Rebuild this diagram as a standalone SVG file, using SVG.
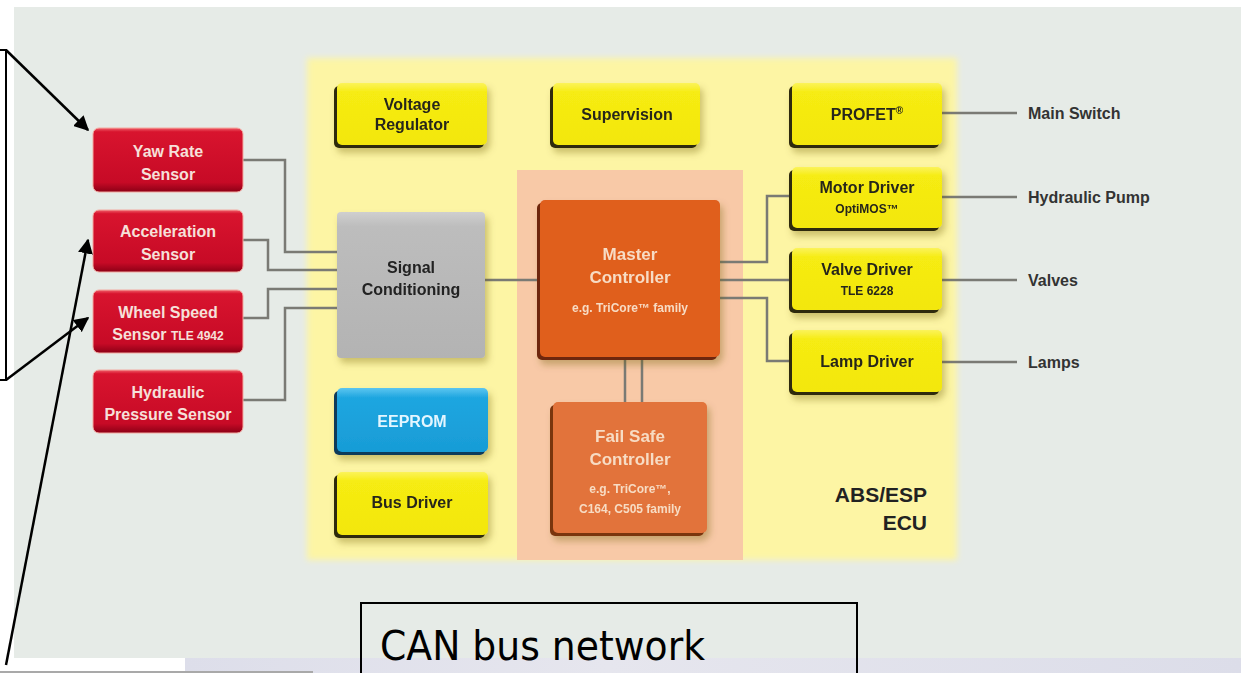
<svg xmlns="http://www.w3.org/2000/svg" width="1241" height="673" viewBox="0 0 1241 673">
  <defs>
    <style>
      .lbl { font-family: "Liberation Sans", Arial, sans-serif; font-weight: bold; text-anchor: middle; }
      .dark { fill: #26261a; }
      .red-t { fill: #f6e0da; font-size: 16px; }
      .yel-t { font-size: 16px; }
      .small { font-size: 12px; }
      .out { font-family: "Liberation Sans", Arial, sans-serif; font-weight: bold; font-size: 16px; fill: #333333; }
      .wire { fill: none; stroke: #7a7a74; stroke-width: 2.5; }
      .call { fill: none; stroke: #000000; stroke-width: 2.5; }
    </style>
    <filter id="soft" x="-5%" y="-5%" width="110%" height="110%">
      <feGaussianBlur stdDeviation="3"/>
    </filter>
    <filter id="shadow" x="-20%" y="-20%" width="150%" height="160%">
      <feDropShadow dx="3" dy="5" stdDeviation="3.5" flood-color="#6b5a00" flood-opacity="0.35"/>
    </filter>
    <linearGradient id="redG" x1="0" y1="0" x2="0" y2="1">
      <stop offset="0" stop-color="#f0606a"/>
      <stop offset="0.06" stop-color="#d8142e"/>
      <stop offset="0.85" stop-color="#c70a26"/>
      <stop offset="1" stop-color="#8c0016"/>
    </linearGradient>
    <linearGradient id="yelG" x1="0" y1="0" x2="0" y2="1">
      <stop offset="0" stop-color="#fbf35a"/>
      <stop offset="0.15" stop-color="#f6ec12"/>
      <stop offset="1" stop-color="#f3e70e"/>
    </linearGradient>
    <linearGradient id="greyG" x1="0" y1="0" x2="0" y2="1">
      <stop offset="0" stop-color="#cfcfcf"/>
      <stop offset="0.1" stop-color="#bdbdbd"/>
      <stop offset="1" stop-color="#b3b3b3"/>
    </linearGradient>
    <linearGradient id="blueG" x1="0" y1="0" x2="0" y2="1">
      <stop offset="0" stop-color="#5cc6f0"/>
      <stop offset="0.15" stop-color="#1fa6e0"/>
      <stop offset="1" stop-color="#189cd6"/>
    </linearGradient>
    <linearGradient id="busG" x1="0" y1="0" x2="1" y2="0">
      <stop offset="0" stop-color="#dddeea"/>
      <stop offset="0.4" stop-color="#e6e6ee"/>
      <stop offset="1" stop-color="#dcdde9"/>
    </linearGradient>
    <marker id="arrow" viewBox="0 0 10 10" refX="9" refY="5" markerWidth="6" markerHeight="6" markerUnits="strokeWidth" orient="auto">
      <path d="M0 0 L10 5 L0 10 z" fill="#000000"/>
    </marker>
  </defs>

  <!-- page background -->
  <rect width="1241" height="673" fill="#ffffff"/>
  <rect x="14" y="7" width="1227" height="651" fill="#e6ebe7"/>
  <rect x="185" y="658" width="1056" height="15" fill="url(#busG)"/>
  <line x1="0" y1="672" x2="313" y2="672" stroke="#a9a9a9" stroke-width="2"/>

  <!-- ECU area and controller zone -->
  <rect x="307" y="58" width="650" height="502" fill="#fdf5a4" filter="url(#soft)"/>
  <rect x="517" y="170" width="226" height="390" fill="#f8c9a7"/>

  <!-- connectors -->
  <g id="connectors">
    <path class="wire" d="M243 160 H285 V252 H337"/>
    <path class="wire" d="M243 240 H268 V270 H337"/>
    <path class="wire" d="M243 318 H268 V289 H337"/>
    <path class="wire" d="M243 400 H285 V308 H337"/>
    <path class="wire" d="M485 280 H540"/>
    <path class="wire" d="M720 262 H767 V196 H792"/>
    <path class="wire" d="M720 280 H792"/>
    <path class="wire" d="M720 298 H767 V361 H792"/>
    <path class="wire" d="M625 357 V402 M642 357 V402"/>
    <path class="wire" d="M942 113 H1017 M942 197 H1017 M942 280 H1017 M942 362 H1017"/>
  </g>

  <!-- sensors -->
  <g id="yaw-rate-sensor">
    <rect x="93" y="128" width="150" height="64" rx="6" fill="url(#redG)" stroke="#f3a9a0" stroke-width="1"/>
    <text class="lbl red-t" x="168" y="157">Yaw Rate</text>
    <text class="lbl red-t" x="168" y="180">Sensor</text>
  </g>
  <g id="acceleration-sensor">
    <rect x="93" y="210" width="150" height="62" rx="6" fill="url(#redG)" stroke="#f3a9a0" stroke-width="1"/>
    <text class="lbl red-t" x="168" y="237">Acceleration</text>
    <text class="lbl red-t" x="168" y="260">Sensor</text>
  </g>
  <g id="wheel-speed-sensor">
    <rect x="93" y="290" width="150" height="63" rx="6" fill="url(#redG)" stroke="#f3a9a0" stroke-width="1"/>
    <text class="lbl red-t" x="168" y="318">Wheel Speed</text>
    <text class="lbl red-t" x="168" y="340">Sensor <tspan class="small">TLE 4942</tspan></text>
  </g>
  <g id="hydraulic-pressure-sensor">
    <rect x="93" y="370" width="150" height="63" rx="6" fill="url(#redG)" stroke="#f3a9a0" stroke-width="1"/>
    <text class="lbl red-t" x="168" y="398">Hydraulic</text>
    <text class="lbl red-t" x="168" y="420">Pressure Sensor</text>
  </g>

  <!-- ECU blocks -->
  <g id="voltage-regulator" filter="url(#shadow)">
    <rect x="334" y="86" width="150" height="62" rx="5" fill="#2e2a08"/>
    <rect x="337" y="83" width="150" height="62" rx="5" fill="url(#yelG)"/>
    <text class="lbl yel-t dark" x="412" y="110">Voltage</text>
    <text class="lbl yel-t dark" x="412" y="130">Regulator</text>
  </g>
  <g id="supervision" filter="url(#shadow)">
    <rect x="550" y="86" width="147" height="62" rx="5" fill="#2e2a08"/>
    <rect x="553" y="83" width="147" height="62" rx="5" fill="url(#yelG)"/>
    <text class="lbl yel-t dark" x="627" y="120">Supervision</text>
  </g>
  <g id="profet" filter="url(#shadow)">
    <rect x="789" y="86" width="150" height="62" rx="5" fill="#2e2a08"/>
    <rect x="792" y="83" width="150" height="62" rx="5" fill="url(#yelG)"/>
    <text class="lbl yel-t dark" x="867" y="120">PROFET<tspan font-size="10" dy="-6">®</tspan></text>
  </g>
  <g id="motor-driver" filter="url(#shadow)">
    <rect x="789" y="170" width="150" height="61" rx="5" fill="#2e2a08"/>
    <rect x="792" y="167" width="150" height="61" rx="5" fill="url(#yelG)"/>
    <text class="lbl yel-t dark" x="867" y="193">Motor Driver</text>
    <text class="lbl small dark" x="867" y="213">OptiMOS™</text>
  </g>
  <g id="valve-driver" filter="url(#shadow)">
    <rect x="789" y="251" width="150" height="62" rx="5" fill="#2e2a08"/>
    <rect x="792" y="248" width="150" height="62" rx="5" fill="url(#yelG)"/>
    <text class="lbl yel-t dark" x="867" y="275">Valve Driver</text>
    <text class="lbl small dark" x="867" y="295">TLE 6228</text>
  </g>
  <g id="lamp-driver" filter="url(#shadow)">
    <rect x="789" y="333" width="150" height="62" rx="5" fill="#2e2a08"/>
    <rect x="792" y="330" width="150" height="62" rx="5" fill="url(#yelG)"/>
    <text class="lbl yel-t dark" x="867" y="367">Lamp Driver</text>
  </g>
  <g id="signal-conditioning" filter="url(#shadow)">
    <rect x="337" y="212" width="148" height="146" rx="4" fill="url(#greyG)"/>
    <text class="lbl yel-t" fill="#222222" x="411" y="273">Signal</text>
    <text class="lbl yel-t" fill="#222222" x="411" y="295">Conditioning</text>
  </g>
  <g id="master-controller" filter="url(#shadow)">
    <rect x="537" y="203" width="180" height="157" rx="5" fill="#6e2508"/>
    <rect x="540" y="200" width="180" height="157" rx="5" fill="#e05e1e"/>
    <text class="lbl" font-size="17" fill="#f7dcc4" x="630" y="260">Master</text>
    <text class="lbl" font-size="17" fill="#f7dcc4" x="630" y="283">Controller</text>
    <text class="lbl small" fill="#f7dcc4" x="630" y="312">e.g. TriCore™ family</text>
  </g>
  <g id="fail-safe-controller" filter="url(#shadow)">
    <rect x="550" y="405" width="154" height="131" rx="5" fill="#7a3410"/>
    <rect x="553" y="402" width="154" height="131" rx="5" fill="#e2733a"/>
    <text class="lbl" font-size="17" fill="#f7dcc4" x="630" y="442">Fail Safe</text>
    <text class="lbl" font-size="17" fill="#f7dcc4" x="630" y="465">Controller</text>
    <text class="lbl small" fill="#f7dcc4" x="630" y="493">e.g. TriCore™,</text>
    <text class="lbl small" fill="#f7dcc4" x="630" y="513">C164, C505 family</text>
  </g>
  <g id="eeprom" filter="url(#shadow)">
    <rect x="334" y="391" width="151" height="64" rx="5" fill="#0e3a5a"/>
    <rect x="337" y="388" width="151" height="64" rx="5" fill="url(#blueG)"/>
    <text class="lbl yel-t" fill="#e4f6ff" x="412" y="427">EEPROM</text>
  </g>
  <g id="bus-driver" filter="url(#shadow)">
    <rect x="334" y="475" width="151" height="63" rx="5" fill="#2e2a08"/>
    <rect x="337" y="472" width="151" height="63" rx="5" fill="url(#yelG)"/>
    <text class="lbl yel-t dark" x="412" y="508">Bus Driver</text>
  </g>

  <!-- ECU caption -->
  <g id="ecu-caption">
    <text font-family="Liberation Sans, Arial, sans-serif" font-weight="bold" font-size="21" fill="#222222" text-anchor="end" x="927" y="502">ABS/ESP</text>
    <text font-family="Liberation Sans, Arial, sans-serif" font-weight="bold" font-size="21" fill="#222222" text-anchor="end" x="927" y="530">ECU</text>
  </g>

  <!-- outputs -->
  <g id="outputs">
    <text class="out" x="1028" y="119">Main Switch</text>
    <text class="out" x="1028" y="203">Hydraulic Pump</text>
    <text class="out" x="1028" y="286">Valves</text>
    <text class="out" x="1028" y="368">Lamps</text>
  </g>

  <!-- callout box with arrows to the sensors -->
  <g id="sensor-callout">
    <rect x="-2" y="50" width="8" height="330" fill="none" stroke="#000000" stroke-width="2"/>
    <line class="call" x1="6" y1="50" x2="88" y2="130" marker-end="url(#arrow)"/>
    <line class="call" x1="6" y1="380" x2="88" y2="318" marker-end="url(#arrow)"/>
    <line class="call" x1="6" y1="665" x2="88" y2="240" marker-end="url(#arrow)"/>
  </g>

  <!-- network caption -->
  <g id="can-bus">
    <path d="M361 673 V603 H857 V673" fill="none" stroke="#000000" stroke-width="2"/>
    <text font-family="Tahoma, 'DejaVu Sans', sans-serif" font-size="40" fill="#000000" x="380" y="660" textLength="325" lengthAdjust="spacingAndGlyphs">CAN bus network</text>
  </g>
</svg>
